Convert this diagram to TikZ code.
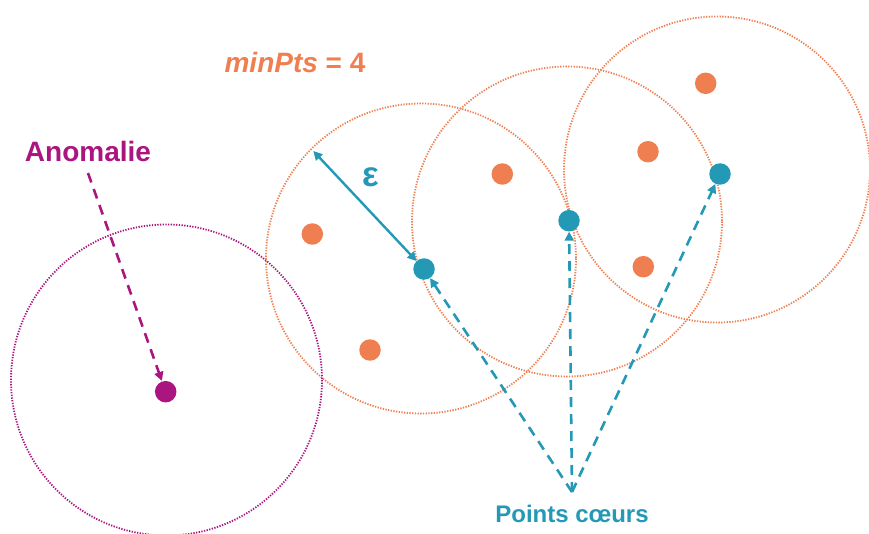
\documentclass[tikz,border=0pt]{standalone}
\usepackage{fontspec}
\setmainfont{Liberation Sans}
\usetikzlibrary{arrows.meta}
\definecolor{orangept}{HTML}{EF7F51}
\definecolor{teal}{HTML}{2499B5}
\definecolor{plum}{HTML}{AA1580}
\tikzset{
  zone/.style={draw=#1, line width=1.8pt, dash pattern=on 1.3pt off 1.4pt},
  dot/.style={circle, fill=#1, inner sep=0pt, minimum size=21.5pt},
  tip/.style={-{Triangle[length=9pt,width=9pt]}},
  dashedarrow/.style={tip, draw=#1, line width=2.6pt, dash pattern=on 10pt off 7pt},
  label/.style={font=\bfseries, text=#1, inner sep=0pt}
}
\begin{document}
\begin{tikzpicture}[x=1pt, y=-1pt]
  \useasboundingbox (0,0) rectangle (869,534);

  % epsilon neighbourhoods
  \draw[zone=plum] (166.5,380) circle (155.5);
  \draw[zone=orangept] (421,258.5) circle (155);
  \draw[zone=orangept] (567,221.5) circle (155);
  \draw[zone=orangept] (717,169.5) circle (153);

  % border points
  \node[dot=orangept] (b1) at (312.3,234) {};
  \node[dot=orangept] (b2) at (370,350) {};
  \node[dot=orangept] (b3) at (502.3,174) {};
  \node[dot=orangept] (b4) at (648,151.7) {};
  \node[dot=orangept] (b5) at (705.7,83.3) {};
  \node[dot=orangept] (b6) at (643.3,266.7) {};

  % core points
  \node[dot=teal] (c1) at (424,269) {};
  \node[dot=teal] (c2) at (569,220.7) {};
  \node[dot=teal] (c3) at (720,174) {};

  % outlier
  \node[dot=plum] (out) at (165.7,391.7) {};

  % radius epsilon
  \coordinate (rim) at (313.3,151);
  \draw[teal, line width=2.4pt, {Triangle[length=9pt,width=9pt]}-{Triangle[length=9pt,width=9pt]}] (rim) -- (c1);
  \node[label=teal, font=\bfseries\fontsize{35}{35}\selectfont] (eps) at (370.7,177) {ε};

  % labels
  \node[label=orangept, font=\bfseries\fontsize{28}{28}\selectfont] (minpts) at (295,62) {\textit{minPts} = 4};
  \node[label=plum, font=\bfseries\fontsize{28}{28}\selectfont] (anom) at (88,151) {Anomalie};
  \node[label=teal, font=\bfseries\fontsize{24}{24}\selectfont] (cores) at (572,514) {Points cœurs};

  % pointers
  \coordinate (anomstart) at (88,173);
  \draw[dashedarrow=plum, shorten >=0.5pt] (anomstart) -- (out);
  \coordinate (hub) at (572,492);
  \draw[dashedarrow=teal] (hub) -- (c1);
  \draw[dashedarrow=teal] (hub) -- (c2);
  \draw[dashedarrow=teal] (hub) -- (c3);
\end{tikzpicture}
\end{document}
